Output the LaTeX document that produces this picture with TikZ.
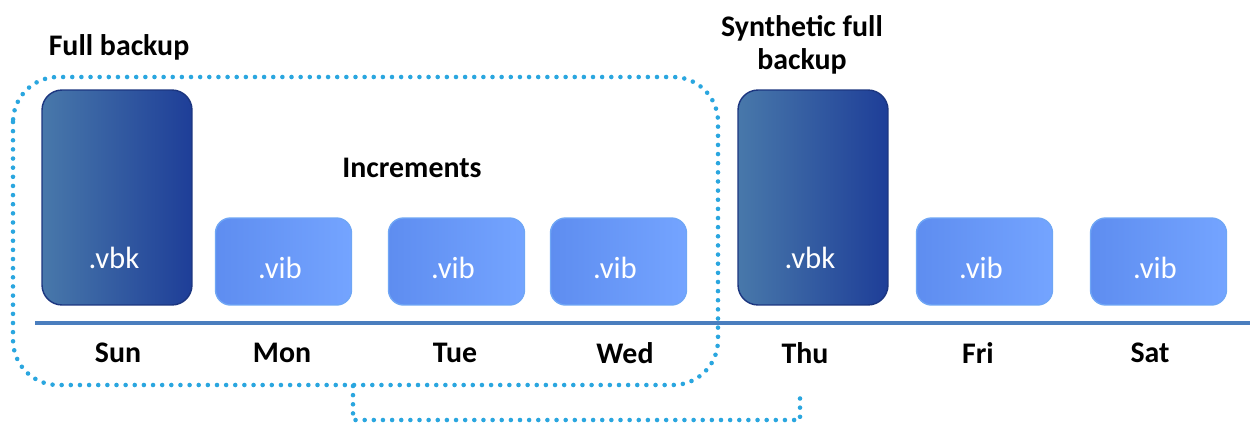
\documentclass[tikz,border=0pt]{standalone}
\usepackage{fontspec}
\setmainfont{Carlito}
\usetikzlibrary{calc}
\definecolor{fullL}{HTML}{4878AA}
\definecolor{fullR}{HTML}{1E3E98}
\definecolor{fullEdge}{HTML}{1C3680}
\definecolor{incL}{HTML}{5E8DF0}
\definecolor{incR}{HTML}{74A4FF}
\definecolor{incEdge}{HTML}{6FA6F5}
\definecolor{axis}{HTML}{4A7EBE}
\definecolor{dots}{HTML}{2AA6DF}
\tikzset{
  px/.style={x=0.02cm,y=-0.02cm},
  fullbox/.style={rectangle, rounded corners=0.4cm, minimum width=3cm, minimum height=4.3cm,
    left color=fullL, right color=fullR, draw=fullEdge, line width=0.8pt},
  incbox/.style={rectangle, rounded corners=0.3cm, minimum width=2.72cm, minimum height=1.74cm,
    left color=incL, right color=incR, draw=incEdge, line width=0.8pt},
  ext/.style={text=white, font=\fontsize{17.5}{20}\selectfont},
  lbl/.style={font=\bfseries\fontsize{17}{19}\selectfont, text=black},
  dotline/.style={draw=dots, line width=2.6pt, line cap=round, dash pattern=on 0pt off 5.2pt},
}
\begin{document}
\begin{tikzpicture}[px]
\useasboundingbox (0,0) rectangle (1250,423);

% backup files
\node[fullbox] (sun) at (117,197.5) {};
\node[incbox]  (mon) at (283.5,261.5) {};
\node[incbox]  (tue) at (456.5,261.5) {};
\node[incbox]  (wed) at (618.5,261.5) {};
\node[fullbox] (thu) at (813,197.5) {};
\node[incbox]  (fri) at (984.5,261.5) {};
\node[incbox]  (sat) at (1158.5,261.5) {};

\node[ext] (sunx) at (114,258) {.vbk};
\node[ext] (monx) at (280,268) {.vib};
\node[ext] (tuex) at (453,268) {.vib};
\node[ext] (wedx) at (615,268) {.vib};
\node[ext] (thux) at (810,258) {.vbk};
\node[ext] (frix) at (981,268) {.vib};
\node[ext] (satx) at (1155,268) {.vib};

% time axis
\coordinate (axL) at (35,323);
\coordinate (axR) at (1250,323);
\draw[axis, line width=2.4pt] (axL) -- (axR);

% day names
\node[lbl] (dsun) at (118,353) {Sun};
\node[lbl] (dmon) at (282,353) {Mon};
\node[lbl] (dtue) at (455,353) {Tue};
\node[lbl] (dwed) at (625,353) {Wed};
\node[lbl] (dthu) at (805,353) {Thu};
\node[lbl] (dfri) at (978,353) {Fri};
\node[lbl] (dsat) at (1150,353) {Sat};

% captions
\node[lbl] (cfull) at (119,47) {Full backup};
\node[lbl] (cinc) at (412,168) {Increments};
\node[lbl, align=center] (csyn) at (802,45) {Synthetic full\\backup};

% backup chain and link to the synthetic full
\draw[dotline, rounded corners=0.9cm] (13,77) rectangle (718,385);
\coordinate (b1) at (353,386);
\coordinate (b2) at (353,420);
\coordinate (b3) at (800,420);
\coordinate (b4) at (800,390);
\draw[dotline] (b1) -- (b2) -- (b3) -- (b4);
\end{tikzpicture}
\end{document}
